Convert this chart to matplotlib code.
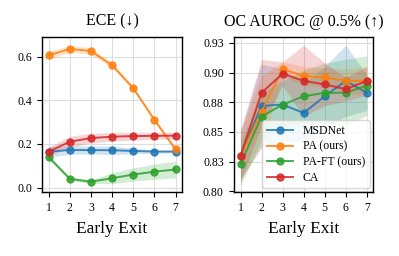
import matplotlib
matplotlib.use("Agg")
import matplotlib.pyplot as plt
import numpy as np

plt.rcParams['font.family'] = ['Liberation Serif', 'DejaVu Serif']

exits = [1, 2, 3, 4, 5, 6, 7]
methods = ["MSDNet", "PA (ours)", "PA-FT (ours)", "CA"]
colors = ["#1f77b4", "#ff7f0e", "#2ca02c", "#d62728"]

# ECE (lower is better)
ece_mean = {
    "MSDNet": [0.165, 0.172, 0.172, 0.171, 0.168, 0.165, 0.165],
    "PA (ours)": [0.605, 0.635, 0.625, 0.560, 0.455, 0.310, 0.175],
    "PA-FT (ours)": [0.140, 0.040, 0.027, 0.043, 0.060, 0.073, 0.083],
    "CA": [0.165, 0.210, 0.227, 0.233, 0.236, 0.237, 0.238],
}
ece_std = {
    "MSDNet": [0.025, 0.020, 0.018, 0.020, 0.012, 0.008, 0.006],
    "PA (ours)": [0.020, 0.015, 0.015, 0.012, 0.008, 0.008, 0.010],
    "PA-FT (ours)": [0.010, 0.008, 0.008, 0.025, 0.030, 0.035, 0.038],
    "CA": [0.020, 0.025, 0.022, 0.020, 0.018, 0.016, 0.015],
}

# OC AUROC @ 0.5% (higher is better)
auroc_mean = {
    "MSDNet": [0.830, 0.872, 0.873, 0.866, 0.880, 0.893, 0.883],
    "PA (ours)": [0.830, 0.867, 0.903, 0.897, 0.896, 0.893, 0.893],
    "PA-FT (ours)": [0.823, 0.863, 0.873, 0.880, 0.883, 0.883, 0.889],
    "CA": [0.830, 0.883, 0.899, 0.893, 0.890, 0.886, 0.893],
}
auroc_std = {
    "MSDNet": [0.020, 0.035, 0.030, 0.025, 0.025, 0.030, 0.015],
    "PA (ours)": [0.020, 0.030, 0.006, 0.008, 0.008, 0.010, 0.012],
    "PA-FT (ours)": [0.018, 0.020, 0.020, 0.022, 0.025, 0.028, 0.025],
    "CA": [0.022, 0.028, 0.010, 0.030, 0.018, 0.010, 0.012],
}

fig = plt.figure(figsize=(3.99, 2.56), dpi=100)
ax1 = fig.add_axes([0.106, 0.25, 0.350, 0.606])
ax2 = fig.add_axes([0.587, 0.25, 0.348, 0.606])

def draw(ax, means, stds):
    for m, c in zip(methods, colors):
        mu = np.array(means[m])
        sd = np.array(stds[m])
        ax.fill_between(exits, mu - sd, mu + sd, color=c, alpha=0.2, lw=0)
        ax.plot(exits, mu, "-o", color=c, lw=1.4, ms=5, alpha=0.85, label=m)
    ax.grid(True, color="#dddddd", lw=0.8)
    ax.set_axisbelow(True)
    ax.set_xticks(exits)
    ax.set_xlim(0.7, 7.3)
    ax.set_xlabel("Early Exit", fontsize=12.5, labelpad=5)
    ax.tick_params(labelsize=8.5, length=3.5, width=0.8, pad=4)
    for s in ax.spines.values():
        s.set_linewidth(1.0)

draw(ax1, ece_mean, ece_std)
ax1.set_ylim(-0.02, 0.69)
ax1.set_yticks([0.0, 0.2, 0.4, 0.6])
ax1.set_yticklabels(["0.0", "0.2", "0.4", "0.6"])
ax1.set_title("ECE (↓)", fontsize=11.5, pad=8)

draw(ax2, auroc_mean, auroc_std)
ax2.set_ylim(0.7995, 0.930)
ax2.set_yticks([0.800, 0.825, 0.850, 0.875, 0.900, 0.925])
ax2.set_yticklabels(["0.80", "0.83", "0.85", "0.88", "0.90", "0.93"])
ax2.set_title("OC AUROC @ 0.5% (↑)", fontsize=11.5, pad=8)
ax2.legend(loc="lower right", fontsize=8.5, framealpha=0.8, borderpad=0.4,
           handlelength=2.2, labelspacing=0.3, borderaxespad=0.3)

fig.savefig("out.png", dpi=100)
